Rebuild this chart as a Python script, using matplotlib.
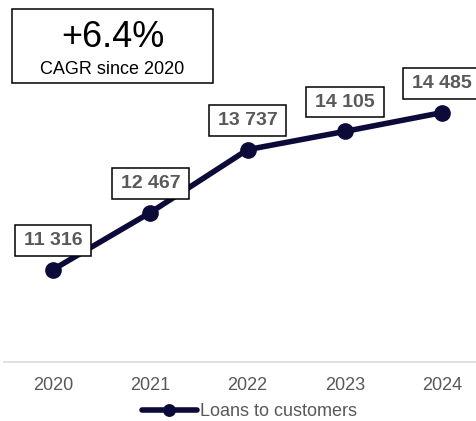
import matplotlib
matplotlib.use("Agg")
from matplotlib import pyplot as plt
from matplotlib.patches import Rectangle

years = ["2020", "2021", "2022", "2023", "2024"]
loans = [11316, 12467, 13737, 14105, 14485]
labels = ["11 316", "12 467", "13 737", "14 105", "14 485"]
cagr_text = "+6.4%"
cagr_caption = "CAGR since 2020"
series_name = "Loans to customers"

navy = "#0b0a38"
grey_text = "#595959"

plt.rcParams['font.family'] = ['Liberation Sans', 'DejaVu Sans']

fig = plt.figure(figsize=(4.77, 4.21), dpi=100)
ax = fig.add_axes([0.0092, 0.1401, 1.02, 0.7708])

x = list(range(len(years)))
ax.plot(x, loans, color=navy, lw=4.0, marker="o", markersize=11,
        solid_capstyle="round", label=series_name, zorder=3)

for xi, v, lab in zip(x, loans, labels):
    ax.annotate(lab, (xi, v), xytext=(0, 21), textcoords="offset points",
                ha="center", va="center", fontsize=14, fontweight="bold",
                color=grey_text, zorder=4,
                bbox=dict(boxstyle="square,pad=0.46", mutation_aspect=0.75,
                          fc="white", ec="black", lw=1.1))

ax.set_xlim(-0.5, 4.5)
ax.set_ylim(9450, 16000)
ax.set_xticks(x)
ax.set_xticklabels(years)
ax.set_yticks([])
ax.tick_params(axis="x", length=0, pad=10.5, labelsize=13, labelcolor=grey_text)
for side in ["top", "left", "right"]:
    ax.spines[side].set_visible(False)
ax.spines["bottom"].set_color("#d9d9d9")
ax.spines["bottom"].set_linewidth(1.1)
ax.patch.set_alpha(0)

# CAGR call-out box in the top-left corner
fig.patches.append(Rectangle((12 / 477, 1 - 83 / 421), 201 / 477, 74 / 421,
                             transform=fig.transFigure, fill=False,
                             ec="black", lw=1.1))
fig.text(112.5 / 477, 1 - 37.5 / 421, cagr_text, ha="center", va="center",
         fontsize=26, color="black")
fig.text(112.5 / 477, 1 - 70 / 421, cagr_caption, ha="center", va="center",
         fontsize=13, color="black")

fig.legend(loc="center", bbox_to_anchor=(0.523, 0.022), frameon=False,
           fontsize=13, handlelength=3.05, handletextpad=0.2, borderpad=0,
           markerscale=0.75, labelcolor=grey_text)

fig.savefig("out.png", dpi=100)
